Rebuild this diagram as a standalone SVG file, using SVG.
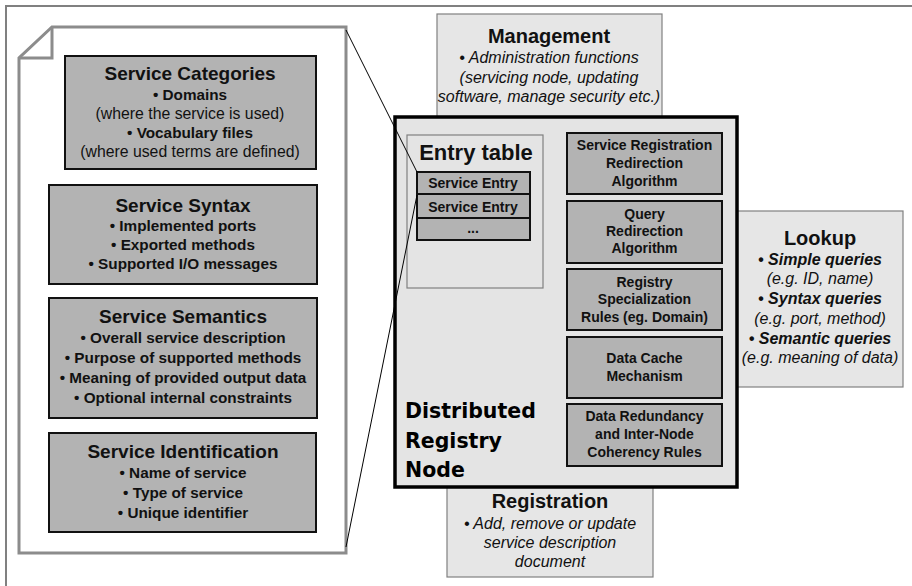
<svg xmlns="http://www.w3.org/2000/svg" width="912" height="586" viewBox="0 0 912 586">
<style>
.t{font-family:"Liberation Sans",Arial,sans-serif;text-anchor:middle;fill:#111}
.h{font-weight:bold;font-size:19px}
.b{font-weight:bold;font-size:15.3px}
.r{font-size:15.8px}
.i{font-style:italic;font-size:16px}
.bi{font-style:italic;font-weight:bold;font-size:16px}
.h2{font-weight:bold;font-size:20px}
.s{font-weight:bold;font-size:14px}
.dark{fill:#b3b3b3;stroke:#111;stroke-width:2}
.light{fill:#e6e6e6;stroke:#808080;stroke-width:1.2}
.big{font-family:"DejaVu Sans",sans-serif;font-weight:bold;font-size:20.5px;fill:#000}
</style>
<rect width="912" height="586" fill="#fff"/>
<g id="frame" fill="none" stroke="#808080" stroke-width="2">
<line x1="5" y1="6" x2="912" y2="6"/>
<line x1="6" y1="5" x2="6" y2="586"/>
</g>
<g id="document">
<path d="M52,27 L346,27 L346,553 L19,553 L19,58 Z" fill="#fff" stroke="#8c8c8c" stroke-width="3" stroke-linejoin="miter"/>
<path d="M52,27 L52,58 L19,58" fill="none" stroke="#8c8c8c" stroke-width="3"/>
</g>
<g id="service-categories">
<rect class="dark" x="65" y="56" width="251" height="113"/>
<text class="t h" x="190" y="80">Service Categories</text>
<text class="t b" x="190" y="100">• Domains</text>
<text class="t r" x="190" y="119">(where the service is used)</text>
<text class="t b" x="190" y="138">• Vocabulary files</text>
<text class="t r" x="190" y="157">(where used terms are defined)</text>
</g>
<g id="service-syntax">
<rect class="dark" x="49" y="185" width="268" height="99"/>
<text class="t h" x="183" y="212">Service Syntax</text>
<text class="t b" x="183" y="231">• Implemented ports</text>
<text class="t b" x="183" y="250">• Exported methods</text>
<text class="t b" x="183" y="269">• Supported I/O messages</text>
</g>
<g id="service-semantics">
<rect class="dark" x="49" y="298" width="268" height="120"/>
<text class="t h" x="183" y="323">Service Semantics</text>
<text class="t b" x="183" y="343">• Overall service description</text>
<text class="t b" x="183" y="363">• Purpose of supported methods</text>
<text class="t b" x="183" y="383">• Meaning of provided output data</text>
<text class="t b" x="183" y="403">• Optional internal constraints</text>
</g>
<g id="service-identification">
<rect class="dark" x="49" y="433" width="267" height="99"/>
<text class="t h" x="183" y="458">Service Identification</text>
<text class="t b" x="183" y="478">• Name of service</text>
<text class="t b" x="183" y="498">• Type of service</text>
<text class="t b" x="183" y="518">• Unique identifier</text>
</g>
<g id="management">
<rect class="light" x="437" y="14" width="225" height="110"/>
<text class="t h2" x="549" y="43">Management</text>
<text class="t i" x="549" y="63">• Administration functions</text>
<text class="t i" x="549" y="83">(servicing node, updating</text>
<text class="t i" x="549" y="102">software, manage security etc.)</text>
</g>
<g id="registration">
<rect class="light" x="447" y="470" width="206" height="107"/>
<text class="t h2" x="550" y="508">Registration</text>
<text class="t i" x="550" y="529">• Add, remove or update</text>
<text class="t i" x="550" y="548">service description</text>
<text class="t i" x="550" y="567">document</text>
</g>
<g id="lookup">
<rect class="light" x="730" y="211" width="173" height="176"/>
<text class="t h2" x="820" y="245">Lookup</text>
<text class="t bi" x="820" y="265">• Simple queries</text>
<text class="t i" x="820" y="284">(e.g. ID, name)</text>
<text class="t bi" x="820" y="304">• Syntax queries</text>
<text class="t i" x="820" y="324">(e.g. port, method)</text>
<text class="t bi" x="820" y="344">• Semantic queries</text>
<text class="t i" x="820" y="363">(e.g. meaning of data)</text>
</g>
<g id="registry-node">
<rect x="395" y="117" width="342" height="370" fill="#e4e4e4" stroke="#000" stroke-width="3.5"/>
<text class="big" x="405" y="418">Distributed</text>
<text class="big" x="405" y="448">Registry</text>
<text class="big" x="405" y="477">Node</text>
</g>
<g id="entry-table">
<rect x="407" y="135" width="136" height="153" fill="#e4e4e4" stroke="#808080" stroke-width="1.2"/>
<text class="t" x="476" y="160" font-weight="bold" font-size="22">Entry table</text>
<rect class="dark" x="417" y="172" width="113" height="22"/>
<rect class="dark" x="417" y="194" width="113" height="24"/>
<rect class="dark" x="417" y="218" width="113" height="22"/>
<text class="t s" x="473" y="188">Service Entry</text>
<text class="t s" x="473" y="212">Service Entry</text>
<text class="t s" x="473" y="233">...</text>
</g>
<g id="service-registration-redirection">
<rect class="dark" x="567" y="133" width="155" height="61"/>
<text class="t s" x="644.5" y="150">Service Registration</text>
<text class="t s" x="644.5" y="168">Redirection</text>
<text class="t s" x="644.5" y="186">Algorithm</text>
</g>
<g id="query-redirection">
<rect class="dark" x="567" y="201" width="155" height="62"/>
<text class="t s" x="644.5" y="219">Query</text>
<text class="t s" x="644.5" y="236">Redirection</text>
<text class="t s" x="644.5" y="253">Algorithm</text>
</g>
<g id="registry-specialization">
<rect class="dark" x="567" y="269" width="155" height="61"/>
<text class="t s" x="644.5" y="287">Registry</text>
<text class="t s" x="644.5" y="304">Specialization</text>
<text class="t s" x="644.5" y="322">Rules (eg. Domain)</text>
</g>
<g id="data-cache">
<rect class="dark" x="567" y="337" width="155" height="61"/>
<text class="t s" x="644.5" y="363">Data Cache</text>
<text class="t s" x="644.5" y="381">Mechanism</text>
</g>
<g id="data-redundancy">
<rect class="dark" x="567" y="404" width="155" height="62"/>
<text class="t s" x="644.5" y="421">Data Redundancy</text>
<text class="t s" x="644.5" y="439">and Inter-Node</text>
<text class="t s" x="644.5" y="457">Coherency Rules</text>
</g>
<g id="connectors" stroke="#000" stroke-width="1" fill="none">
<line x1="346" y1="30" x2="417" y2="172"/>
<line x1="417" y1="195" x2="346" y2="547"/>
</g>
</svg>
